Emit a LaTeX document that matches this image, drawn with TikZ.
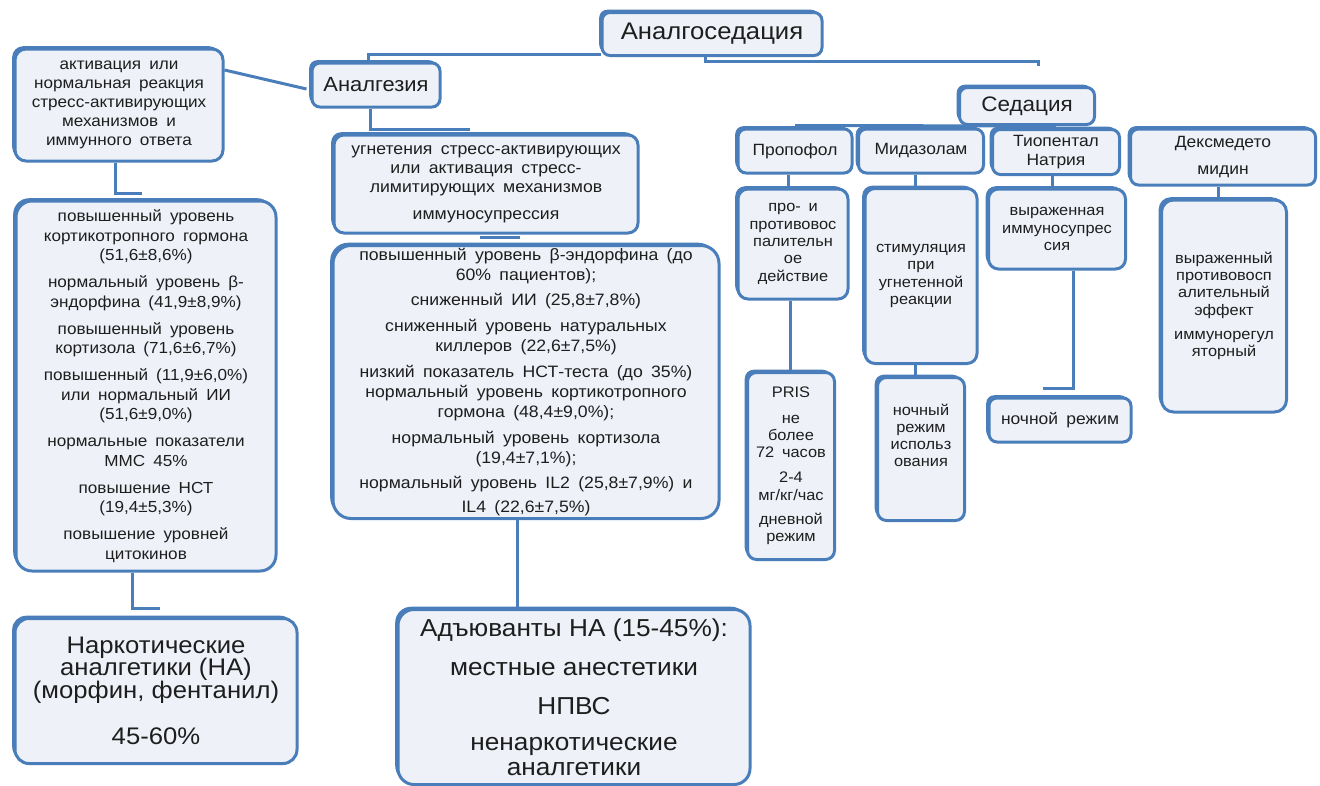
\documentclass[tikz,border=0pt]{standalone}
\usepackage{fontspec}
\setmainfont{Liberation Sans}[FakeStretch=1.07, WordSpace=1.7]
\newfontfamily\bigf{Liberation Sans}[FakeStretch=1.07]
\usetikzlibrary{shadows}
\definecolor{bblue}{RGB}{74,126,187}
\definecolor{bfill}{RGB}{238,242,248}
\definecolor{tgray}{RGB}{30,30,30}
\pgfdeclarelayer{back}
\pgfdeclarelayer{bg}
\pgfsetlayers{back,bg,main}
\tikzset{
  box/.style={draw=bblue, line width=3pt, fill=bfill, rounded corners=8pt,
    inner sep=1pt, align=center, text=tgray,
    general shadow={fill=bblue, shadow xshift=-2.8pt, shadow yshift=2.8pt}},
  conn/.style={draw=bblue, line width=3pt},
  fsA/.style={font=\fontsize{16}{19.5}\selectfont},
  fsB/.style={font=\fontsize{16.5}{20}\selectfont},
  fsC/.style={font=\fontsize{15.3}{17.3}\selectfont},
  fsH/.style={font=\fontsize{16.3}{19}\selectfont},
  fsBigL/.style={font=\bigf\fontsize{24}{22.5}\selectfont},
  fsBigM/.style={font=\bigf\fontsize{24.5}{25}\selectfont},
}
\begin{document}
\begin{tikzpicture}[x=1pt,y=-1pt]
\useasboundingbox (0,0) rectangle (1320,785);
\begin{pgfonlayer}{back}
\fill[white] (0,0) rectangle (1320,785);
\end{pgfonlayer}

% top level
\node[box, minimum width=220pt, minimum height=43pt, font=\fontsize{24}{26}\selectfont] (asd) at (712,34) {Аналгоседация};
\node[box, minimum width=128pt, minimum height=44pt, font=\fontsize{20.5}{24}\selectfont] (anl) at (376,85) {Аналгезия};
\node[box, minimum width=135pt, minimum height=37pt, font=\fontsize{21}{24}\selectfont] (sed) at (1027,106) {Седация};
\coordinate (sedtop) at (1038,66);

% left column
\node[box, rounded corners=11pt, minimum width=208pt, minimum height=112pt, font=\fontsize{16}{19}\selectfont] (lt) at (119,105)
  {активация или\\нормальная реакция\\стресс-активирующих\\механизмов и\\иммунного ответа};
\node[box, rounded corners=16pt, minimum width=260pt, minimum height=370pt, fsA] (lm) at (146,386)
  {повышенный уровень\\кортикотропного гормона\\(51,6±8,6\%)\\[7.5pt]
   нормальный уровень β-\\эндорфина (41,9±8,9\%)\\[7.5pt]
   повышенный уровень\\кортизола (71,6±6,7\%)\\[7.5pt]
   повышенный (11,9±6,0\%)\\или нормальный ИИ\\(51,6±9,0\%)\\[7.5pt]
   нормальные показатели\\ММС 45\%\\[7.5pt]
   повышение НСТ\\(19,4±5,3\%)\\[7.5pt]
   повышение уровней\\цитокинов};
\node[box, rounded corners=14pt, minimum width=282pt, minimum height=145pt, fsBigL] (lb) at (156,691)
  {Наркотические\\аналгетики (НА)\\(морфин, фентанил)\\[24pt]45-60\%};

% middle column
\node[box, rounded corners=10pt, minimum width=304pt, minimum height=98pt, font=\fontsize{16.5}{19}\selectfont] (mb1) at (486,184)
  {угнетения стресс-активирующих\\или активация стресс-\\лимитирующих механизмов\\[8pt]иммуносупрессия};
\node[box, rounded corners=18pt, minimum width=386pt, minimum height=273pt, fsB] (mb2) at (526,382)
  {повышенный уровень β-эндорфина (до\\60\% пациентов);\\[5pt]
   сниженный ИИ (25,8±7,8\%)\\[6pt]
   сниженный уровень натуральных\\киллеров (22,6±7,5\%)\\[6pt]
   низкий показатель НСТ-теста (до 35\%)\\
   нормальный уровень кортикотропного\\гормона (48,4±9,0\%);\\[6pt]
   нормальный уровень кортизола\\(19,4±7,1\%);\\[5pt]
   нормальный уровень IL2 (25,8±7,9\%) и\\[4pt]IL4 (22,6±7,5\%)};
\node[box, rounded corners=16pt, minimum width=352pt, minimum height=175pt, fsBigM] (mbot) at (574,697)
  {Адъюванты НА (15-45\%):\\[14pt]местные анестетики\\[14pt]НПВС\\[11pt]ненаркотические\\аналгетики};

% sedation headers
\node[box, minimum width=114pt, minimum height=44pt, fsH] (prop) at (795,151) {Пропофол};
\node[box, minimum width=125pt, minimum height=44pt, fsH] (mid) at (921,151) {Мидазолам};
\node[box, minimum width=127pt, minimum height=45pt, fsH] (thio) at (1056,152) {Тиопентал\\Натрия};
\node[box, minimum width=185pt, minimum height=56pt, fsH] (dex) at (1223,157) {Дексмедето\\[8pt]мидин};

% sedation children
\node[box, rounded corners=10pt, minimum width=110pt, minimum height=110pt, fsC] (propc) at (793,244)
  {про- и\\противовос\\палительн\\ое\\действие};
\node[box, rounded corners=9pt, minimum width=87pt, minimum height=187pt, fsC] (pris) at (791,466)
  {PRIS\\[8pt]не\\более\\72 часов\\[8pt]2-4\\мг/кг/час\\[7pt]дневной\\режим};
\node[box, rounded corners=10pt, minimum width=112pt, minimum height=175pt, fsC] (midc) at (921,276)
  {стимуляция\\при\\угнетенной\\реакции};
\node[box, rounded corners=9pt, minimum width=87pt, minimum height=143pt, fsC] (midn) at (921,449)
  {ночный\\режим\\использ\\ования\\[10pt]};
\node[box, rounded corners=10pt, minimum width=137pt, minimum height=80pt, fsC] (thioc) at (1057,229)
  {выраженная\\иммуносупрес\\сия};
\node[box, minimum width=142pt, minimum height=44pt, fsH] (noch) at (1060,420) {ночной режим};
\node[box, rounded corners=12pt, minimum width=125pt, minimum height=212pt, fsC] (dexc) at (1224,306)
  {выраженный\\противовосп\\алительный\\эффект\\[7pt]иммунорегул\\яторный};

% connectors
\begin{pgfonlayer}{bg}
\draw[conn] ([yshift=3pt]asd.south west) -| ([xshift=-8pt]anl.north);
\draw[conn] ([xshift=-7pt]asd.south) -- ++(0,4.5) -| (sedtop);
\draw[conn] ([yshift=35pt]lt.east) -- ([xshift=-4pt,yshift=-4pt]anl.west);
\draw[conn] ([xshift=-4pt]lt.south) -- ++(0,31) -- ++(27,0);
\draw[conn] ([xshift=-14pt]lm.south) -- ++(0,36) -- ++(28,0);
\draw[conn] ([xshift=-6pt]anl.south) -- ++(0,21) -- ++(100,0);
\draw[conn] ([xshift=-6pt,yshift=-3pt]mb1.south) -- ++(40,0);
\draw[conn] ([xshift=-9pt]mb2.south) -- ([xshift=-57pt]mbot.north);
\draw[conn] ([yshift=2pt]prop.north) -- ([yshift=2pt]thio.north);
\draw[conn] (sed.south) -- (sed.south |- prop.north);
\draw[conn] ([xshift=-7pt]prop.south) -- ([xshift=-7pt]prop.south |- propc.north);
\draw[conn] ([xshift=-3pt]propc.south) -- ([xshift=-1pt]pris.north);
\draw[conn] ([xshift=-6pt]mid.south) -- ([xshift=-6pt]mid.south |- midc.north);
\draw[conn] ([xshift=-6pt]midc.south) -- ([xshift=-6pt]midc.south |- midn.north);
\draw[conn] ([xshift=-4pt]thio.south) -- ([xshift=-4pt]thio.south |- thioc.north);
\draw[conn] ([xshift=16pt]thioc.south) |- ([xshift=-17pt,yshift=8pt]noch.north);
\draw[conn] ([xshift=-5pt]dex.south) -- ([xshift=-5pt]dex.south |- dexc.north);
\end{pgfonlayer}
\end{tikzpicture}
\end{document}
